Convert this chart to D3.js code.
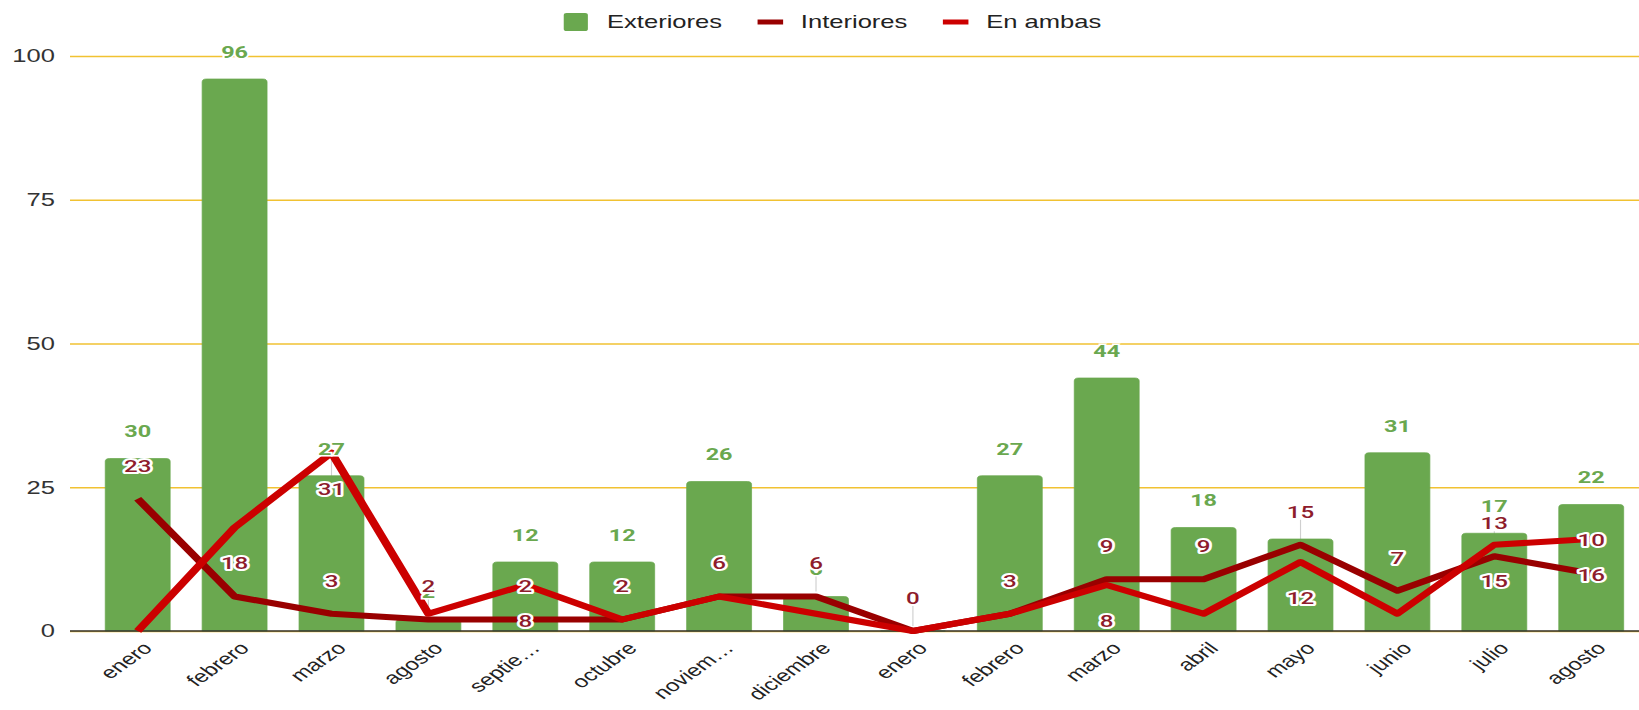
<!DOCTYPE html>
<html>
<head>
<meta charset="utf-8">
<script src="https://cdn.jsdelivr.net/npm/d3@7"></script>
<style>
  html, body { margin: 0; padding: 0; background: #fff; overflow: hidden; }
  svg { display: block; }
</style>
</head>
<body>
<svg id="chart"></svg>
<script>
// Monthly counts: outdoor, indoor and both
const months = ["enero", "febrero", "marzo", "agosto", "septie…", "octubre", "noviem…", "diciembre",
                "enero", "febrero", "marzo", "abril", "mayo", "junio", "julio", "agosto"];
const exteriores = [30, 96, 27, 2, 12, 12, 26, 6, 0, 27, 44, 18, 16, 31, 17, 22];
const interiores = [23, 6, 3, 2, 2, 2, 6, 6, 0, 3, 9, 9, 15, 7, 13, 10];
const enAmbas    = [0, 18, 31, 3, 8, 2, 6, 3, 0, 3, 8, 3, 12, 3, 15, 16];
const yTicks = [0, 25, 50, 75, 100];
const seriesNames = ["Exteriores", "Interiores", "En ambas"];

const colors = { bar: "#6aa84f", interiores: "#990000", enAmbas: "#cc0000", label: "#8e1c2c" };

// The drawing is laid out in a narrower coordinate space and stretched to the window width
const W = 1639, H = 710, SX = 1.42;
const VW = W / SX;
const plotLeft = 49.3;

const svg = d3.select("#chart")
  .attr("width", W).attr("height", H)
  .attr("viewBox", `0 0 ${VW} ${H}`)
  .attr("preserveAspectRatio", "none");

const idx = d3.range(months.length);
const x = d3.scaleBand().domain(idx).range([62.85, 1154.7]).paddingInner(0.33).paddingOuter(0.165);
const y = d3.scaleLinear().domain([0, 100]).range([631, 56]);
const cx = i => x(i) + x.bandwidth() / 2;

// Gridlines and value axis
const yAxis = svg.append("g")
  .attr("transform", `translate(${plotLeft},0)`)
  .call(d3.axisLeft(y).tickValues(yTicks).tickSize(-(VW - plotLeft)).tickPadding(10.6));
yAxis.select(".domain").remove();
yAxis.selectAll(".tick line").attr("stroke", "#f1c232").attr("stroke-width", 1.3);
yAxis.selectAll(".tick text")
  .attr("font-family", "'Liberation Sans', Arial, sans-serif")
  .attr("font-size", 18).attr("fill", "#333");

// Category axis with slanted labels
const xAxis = svg.append("g")
  .attr("transform", `translate(0,${y(0)})`)
  .call(d3.axisBottom(x).tickSize(0).tickFormat(i => months[i]));
xAxis.select(".domain").remove();
xAxis.selectAll(".tick text")
  .attr("font-family", "'Liberation Sans', Arial, sans-serif")
  .attr("font-size", 17).attr("fill", "#222")
  .attr("text-anchor", "end")
  .attr("y", 0).attr("dy", "0.35em")
  .attr("transform", "translate(7,14) rotate(-45)");

// Annotation placement for the two line series
const labelFont = "Roboto, 'Noto Sans', sans-serif";
const ambasLabels = idx.map(i => ({ i, v: enAmbas[i], py: y(enAmbas[i]), ly: y(enAmbas[i]) + 36 }))
  .filter(d => d.ly < y(0) - 8);
const interLabels = idx.map(i => ({ i, v: interiores[i], py: y(interiores[i]), ly: y(interiores[i]) - 33 }))
  .filter(d => !ambasLabels.some(a => a.i === d.i && Math.abs(a.ly - d.ly) < 16));

// Stems behind the bars
const stems = svg.append("g").attr("stroke", "#cfcfcf").attr("stroke-width", 0.8);
stems.selectAll("line.up").data(interLabels).join("line")
  .attr("x1", d => cx(d.i)).attr("x2", d => cx(d.i))
  .attr("y1", d => d.py - 5).attr("y2", d => d.ly + 8);
stems.selectAll("line.down").data(ambasLabels).join("line")
  .attr("x1", d => cx(d.i)).attr("x2", d => cx(d.i))
  .attr("y1", d => d.py + 5).attr("y2", d => d.ly - 9);

// Bars with rounded top corners
function barPath(x0, w, yTop, yBase, r) {
  const h = yBase - yTop;
  const rr = Math.min(r, h, w / 2);
  return `M${x0},${yBase}V${yTop + rr}Q${x0},${yTop} ${x0 + rr},${yTop}` +
         `H${x0 + w - rr}Q${x0 + w},${yTop} ${x0 + w},${yTop + rr}V${yBase}Z`;
}
svg.append("g").selectAll("path").data(idx).join("path")
  .attr("d", i => barPath(x(i), x.bandwidth(), y(exteriores[i]), y(0), 3))
  .attr("fill", colors.bar)
  .attr("stroke", colors.bar).attr("stroke-width", 0.6);

// Baseline
svg.append("line")
  .attr("x1", plotLeft).attr("x2", VW)
  .attr("y1", y(0)).attr("y2", y(0))
  .attr("stroke", "#333").attr("stroke-width", 1.6);

// Lines
const line = d3.line().x((d, i) => cx(i)).y(d => y(d));
svg.append("path").datum(interiores)
  .attr("d", line).attr("fill", "none")
  .attr("stroke", colors.interiores).attr("stroke-width", 6).attr("stroke-linejoin", "round");
svg.append("path").datum(enAmbas)
  .attr("d", line).attr("fill", "none")
  .attr("stroke", colors.enAmbas).attr("stroke-width", 6).attr("stroke-linejoin", "round");

// Bar value labels
svg.append("g").selectAll("text").data(idx.filter(i => exteriores[i] > 0)).join("text")
  .attr("x", i => cx(i)).attr("y", i => y(exteriores[i]) - 27).attr("dy", "0.35em")
  .attr("text-anchor", "middle")
  .attr("font-family", labelFont).attr("font-weight", 700).attr("font-size", 16.5)
  .attr("fill", colors.bar)
  .attr("stroke", "#fff").attr("stroke-width", 3).attr("paint-order", "stroke")
  .text(i => exteriores[i]);

// Line value labels
function drawLineLabels(data) {
  svg.append("g").selectAll("text").data(data).join("text")
    .attr("x", d => cx(d.i)).attr("y", d => d.ly).attr("dy", "0.35em")
    .attr("text-anchor", "middle")
    .attr("font-family", labelFont).attr("font-weight", 500).attr("font-size", 17)
    .attr("fill", colors.label)
    .attr("stroke", "#fff").attr("stroke-width", 4).attr("stroke-linejoin", "round")
    .attr("paint-order", "stroke")
    .text(d => d.v);
}
drawLineLabels(ambasLabels);
drawLineLabels(interLabels);

// Legend
const legend = svg.append("g").attr("transform", "translate(397,22)");
let lx = 0;
seriesNames.forEach((name, k) => {
  if (k === 0) {
    legend.append("rect").attr("x", lx).attr("y", -9).attr("width", 17).attr("height", 18)
      .attr("rx", 2).attr("fill", colors.bar);
  } else {
    legend.append("line").attr("x1", lx).attr("x2", lx + 18).attr("y1", 0).attr("y2", 0)
      .attr("stroke", k === 1 ? colors.interiores : colors.enAmbas).attr("stroke-width", 5);
  }
  lx += 17 + 13.5;
  const t = legend.append("text").attr("x", lx).attr("y", 0).attr("dy", "0.35em")
    .attr("font-family", "'Liberation Sans', Arial, sans-serif")
    .attr("font-size", 18).attr("fill", "#222").text(name);
  lx += t.node().getComputedTextLength() + 25;
});
</script>
</body>
</html>
